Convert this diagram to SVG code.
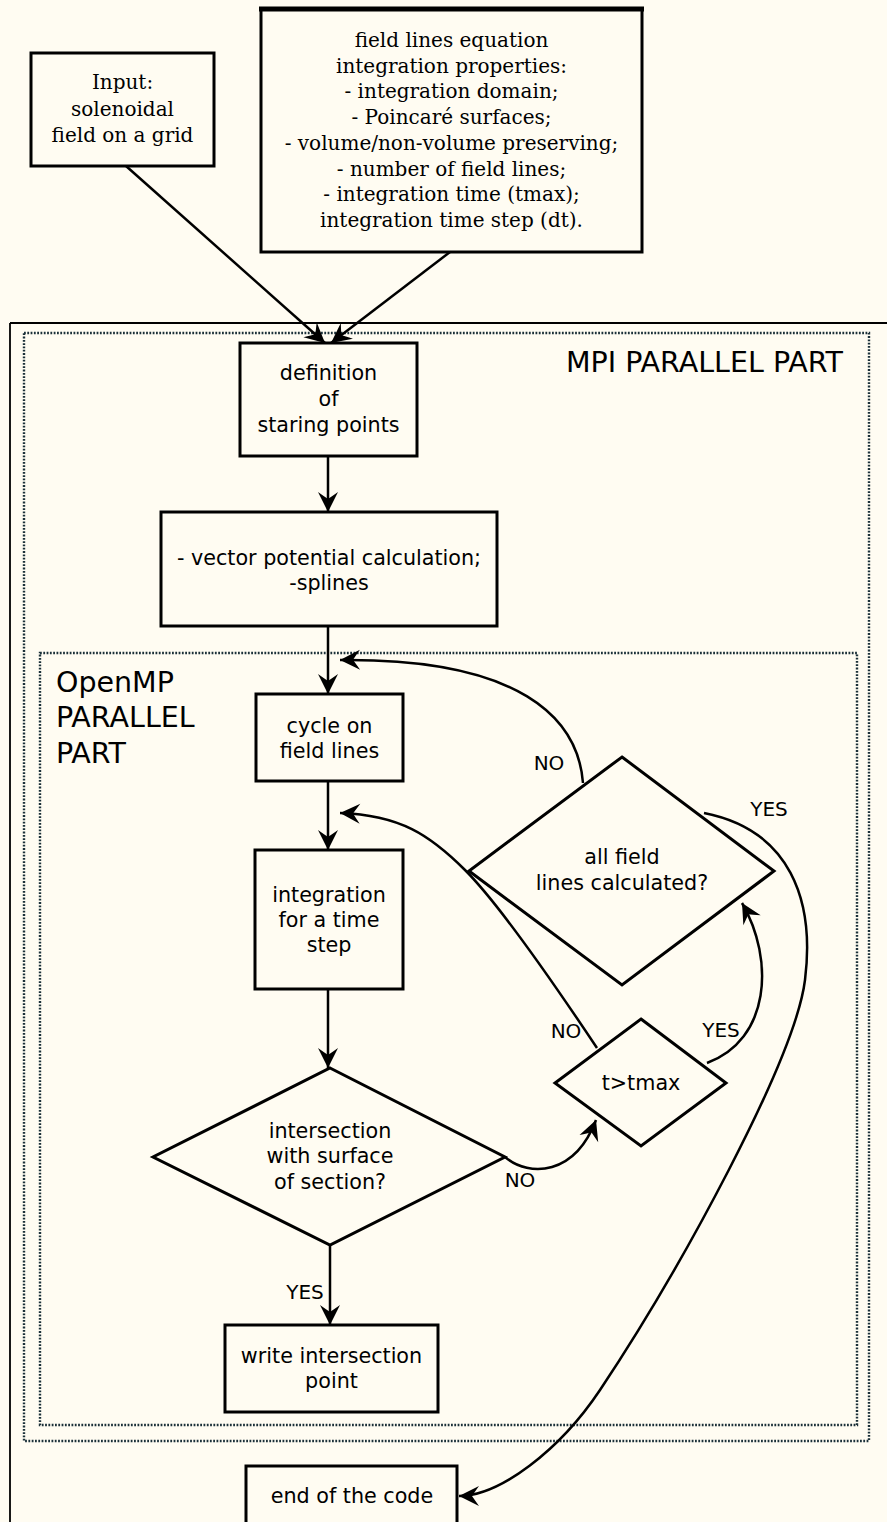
<svg xmlns="http://www.w3.org/2000/svg" width="887" height="1522" viewBox="0 0 887 1522">
  <style>
    .box { fill: #fffcf2; stroke: #000; stroke-width: 3; }
    .edge { fill: none; stroke: #000; stroke-width: 2.5; }
    .frame { fill: none; stroke: #000; stroke-width: 1.8; }
    .dots { fill: none; stroke: #1b3039; stroke-width: 2.4; stroke-dasharray: 1.8 1.5; }
    .serif { font-family: "DejaVu Serif", "Liberation Serif", serif; font-size: 20px; fill: #000; text-anchor: middle; }
    .sans { font-family: "DejaVu Sans", "Liberation Sans", sans-serif; font-size: 20.7px; fill: #000; text-anchor: middle; }
    .lbl { font-family: "DejaVu Sans", "Liberation Sans", sans-serif; font-size: 20px; fill: #000; text-anchor: middle; }
    .title { font-family: "DejaVu Sans", "Liberation Sans", sans-serif; font-size: 28.5px; fill: #000; }
  </style>
  <defs>
    <marker id="arrow" viewBox="-22 -12 24 24" markerWidth="24" markerHeight="24" refX="0" refY="0" markerUnits="userSpaceOnUse" orient="auto">
      <path d="M0,0 L-20,-10 Q-15,-3 -13,0 Q-15,3 -20,10 Z" fill="#000"/>
    </marker>
  </defs>

  <rect x="0" y="0" width="887" height="1522" fill="#fffcf2"/>

  <!-- frames of the parallel regions -->
  <g id="frames">
    <path class="frame" d="M10,323 H887 M10,323 V1522"/>
    <rect id="mpi-region" class="dots" x="24" y="333" width="845" height="1108"/>
    <rect id="openmp-region" class="dots" x="40" y="653" width="817" height="772"/>
    <text class="title" x="566" y="372">MPI PARALLEL PART</text>
    <text class="title" x="56" y="692">OpenMP</text>
    <text class="title" x="56" y="727">PARALLEL</text>
    <text class="title" x="56" y="763">PART</text>
  </g>

  <!-- connectors -->
  <g id="connectors">
    <path class="edge" d="M126,166 L325,343" marker-end="url(#arrow)"/>
    <path class="edge" d="M450,252 L331,343" marker-end="url(#arrow)"/>
    <path class="edge" d="M328,456 V512" marker-end="url(#arrow)"/>
    <path class="edge" d="M328,626 V694" marker-end="url(#arrow)"/>
    <path class="edge" d="M328,781 V850" marker-end="url(#arrow)"/>
    <path class="edge" d="M328,989 V1068" marker-end="url(#arrow)"/>
    <path class="edge" d="M330,1245 V1325" marker-end="url(#arrow)"/>
    <!-- all lines calculated? NO -> back to cycle -->
    <path class="edge" d="M583,783 C578,718 520,658 340,660" marker-end="url(#arrow)"/>
    <!-- t>tmax NO -> next time step -->
    <path class="edge" d="M597,1048 C555,985 500,905 465,870 C430,835 400,815 340,813" marker-end="url(#arrow)"/>
    <!-- t>tmax YES -> all lines calculated? -->
    <path class="edge" d="M707,1063 C770,1040 775,960 742,903" marker-end="url(#arrow)"/>
    <!-- all lines calculated? YES -> end -->
    <path class="edge" d="M704,813 C790,830 815,900 805,980 C795,1060 680,1270 600,1390 C560,1450 500,1496 459,1496" marker-end="url(#arrow)"/>
    <!-- intersection NO -> t>tmax -->
    <path class="edge" d="M505,1157 C530,1178 575,1175 596,1120" marker-end="url(#arrow)"/>
    <text class="lbl" x="549" y="770">NO</text>
    <text class="lbl" x="769" y="816">YES</text>
    <text class="lbl" x="566" y="1038">NO</text>
    <text class="lbl" x="721" y="1037">YES</text>
    <text class="lbl" x="520" y="1187">NO</text>
    <text class="lbl" x="305" y="1299">YES</text>
  </g>

  <g id="input">
    <rect class="box" x="31" y="53" width="183" height="113"/>
    <text class="serif" x="122.5" y="89">Input:</text>
    <text class="serif" x="122.5" y="116">solenoidal</text>
    <text class="serif" x="122.5" y="142">field on a grid</text>
  </g>

  <g id="properties">
    <rect class="box" x="261" y="9" width="381" height="243"/>
    <path d="M259,9 H644" stroke="#000" stroke-width="5"/>
    <text class="serif" x="451.5" y="47">field lines equation</text>
    <text class="serif" x="451.5" y="72.7">integration properties:</text>
    <text class="serif" x="451.5" y="98.4">- integration domain;</text>
    <text class="serif" x="451.5" y="124.1">- Poincaré surfaces;</text>
    <text class="serif" x="451.5" y="149.8">- volume/non-volume preserving;</text>
    <text class="serif" x="451.5" y="175.5">- number of field lines;</text>
    <text class="serif" x="451.5" y="201.2">- integration time (tmax);</text>
    <text class="serif" x="451.5" y="226.9">integration time step (dt).</text>
  </g>

  <g id="starting-points">
    <rect class="box" x="240" y="343" width="177" height="113"/>
    <text class="sans" x="328.5" y="380">definition</text>
    <text class="sans" x="328.5" y="406">of</text>
    <text class="sans" x="328.5" y="432">staring points</text>
  </g>

  <g id="potential">
    <rect class="box" x="161" y="512" width="336" height="114"/>
    <text class="sans" x="329" y="565">- vector potential calculation;</text>
    <text class="sans" x="329" y="590">-splines</text>
  </g>

  <g id="cycle">
    <rect class="box" x="256" y="694" width="147" height="87"/>
    <text class="sans" x="329.5" y="733">cycle on</text>
    <text class="sans" x="329.5" y="758">field lines</text>
  </g>

  <g id="integration">
    <rect class="box" x="255" y="850" width="148" height="139"/>
    <text class="sans" x="329" y="902">integration</text>
    <text class="sans" x="329" y="927">for a time</text>
    <text class="sans" x="329" y="952">step</text>
  </g>

  <g id="all-calculated">
    <polygon class="box" points="622,757 774,871 622,985 469,871"/>
    <text class="sans" x="622" y="864">all field</text>
    <text class="sans" x="622" y="890">lines calculated?</text>
  </g>

  <g id="tmax">
    <polygon class="box" points="641,1019 726,1083 641,1146 555,1083"/>
    <text class="sans" x="641" y="1090">t&gt;tmax</text>
  </g>

  <g id="intersection">
    <polygon class="box" points="330,1068 505,1157 330,1245 153,1157"/>
    <text class="sans" x="330" y="1138">intersection</text>
    <text class="sans" x="330" y="1163">with surface</text>
    <text class="sans" x="330" y="1189">of section?</text>
  </g>

  <g id="write">
    <rect class="box" x="225" y="1325" width="213" height="87"/>
    <text class="sans" x="331.5" y="1363">write intersection</text>
    <text class="sans" x="331.5" y="1388">point</text>
  </g>

  <g id="end">
    <rect class="box" x="246" y="1466" width="211" height="70"/>
    <text class="sans" x="352" y="1503">end of the code</text>
  </g>
</svg>
